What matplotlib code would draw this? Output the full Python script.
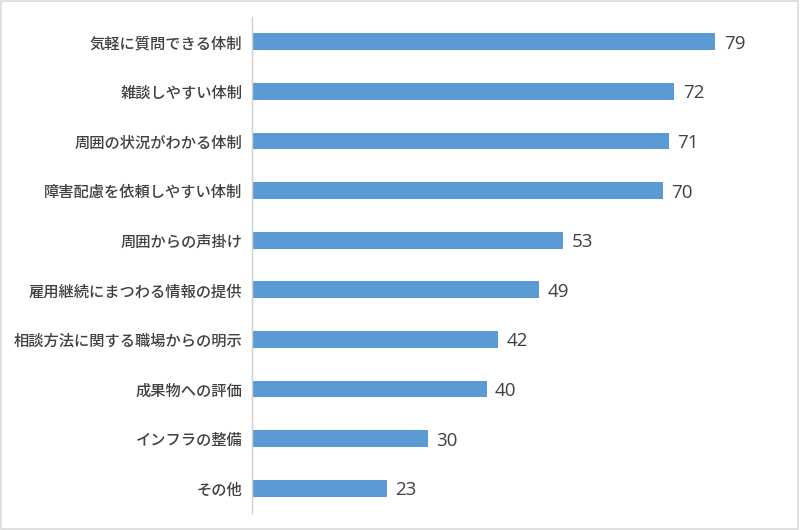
import matplotlib
matplotlib.use('Agg')
import matplotlib.pyplot as plt
from matplotlib.patches import Rectangle

plt.rcParams['font.family'] = ['Noto Sans CJK JP', 'DejaVu Sans']

categories = ['気軽に質問できる体制', '雑談しやすい体制', '周囲の状況がわかる体制',
              '障害配慮を依頼しやすい体制', '周囲からの声掛け', '雇用継続にまつわる情報の提供',
              '相談方法に関する職場からの明示', '成果物への評価', 'インフラの整備', 'その他']
values = [79, 72, 71, 70, 53, 49, 42, 40, 30, 23]

bar_color = '#5B9BD5'
text_color = '#404040'

fig = plt.figure(figsize=(8, 5.3), dpi=100)
ax = fig.add_axes([0.315, 0.032, 0.66, 0.936])

pos = list(range(len(categories)))[::-1]
ax.barh(pos, values, height=0.34, color=bar_color)
for p, v in zip(pos, values):
    ax.annotate(str(v), xy=(v, p), xytext=(6, -1.5), textcoords='offset points',
                va='center', ha='left', fontsize=13.5, color=text_color,
                family=['Open Sans', 'DejaVu Sans'])

ax.set_xlim(0, 90)
ax.set_ylim(-0.5, len(categories) - 0.5)
ax.set_yticks(pos)
ax.set_yticklabels(categories, fontsize=11, color=text_color, fontweight='medium')
ax.tick_params(axis='y', length=0, pad=7)
ax.set_xticks([])
for s in ['top', 'right', 'bottom']:
    ax.spines[s].set_visible(False)
ax.spines['left'].set_color('#D0D0D0')
ax.spines['left'].set_linewidth(1)

# outer chart border
fig.patches.append(Rectangle((0.001, 0.002), 0.997, 0.996, transform=fig.transFigure,
                             fill=False, edgecolor='#D9D9D9', linewidth=1.2))

fig.savefig('out.png', dpi=100)
